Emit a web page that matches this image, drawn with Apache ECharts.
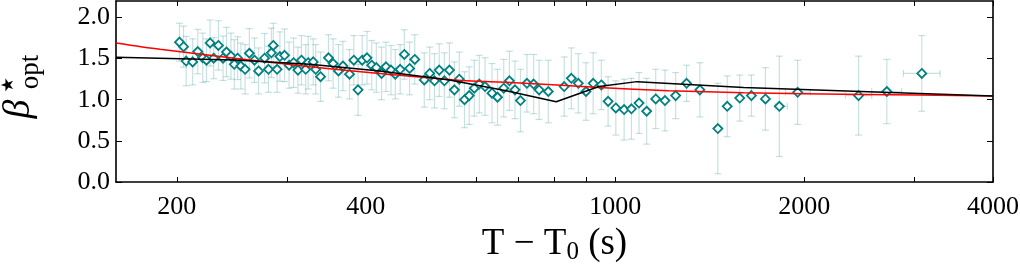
<!DOCTYPE html>
<html><head><meta charset="utf-8">
<script src="https://cdn.jsdelivr.net/npm/echarts@6/dist/echarts.min.js"></script>
<style>html,body{margin:0;padding:0;background:#fff}#c{width:1020px;height:267px}</style>
</head><body><div id="c"></div>
<script>
// Observations: T - T0 (s) and beta*_opt with symmetric error half-widths
const tValues = [202,205,207,212,216,220,223,226,229,233,237,240,244,247,250,253,257,261,266,270,276,280,283,285,289,292,297,302,307,312,316,321,324,330,333,339,349,355,362,368,377,383,389,395,402,409,416,424,431,439,446,454,461,470,479,496,506,515,524,534,544,554,564,575,585,596,607,620,636,649,664,678,692,706,723,741,756,782,829,851,873,898,922,950,974,1002,1033,1061,1091,1122,1160,1200,1248,1299,1364,1457,1508,1579,1648,1735,1826,1953,2442,2709,3080];
const betaValues = [1.70,1.645,1.47,1.46,1.585,1.51,1.48,1.69,1.505,1.66,
1.505,1.58,1.53,1.43,1.505,1.41,1.37,1.565,1.48,1.35,
1.505,1.37,1.57,1.66,1.37,1.525,1.54,1.42,1.45,1.36,
1.48,1.37,1.45,1.46,1.37,1.28,1.51,1.44,1.35,1.41,
1.31,1.48,1.12,1.48,1.51,1.42,1.39,1.32,1.40,1.36,
1.31,1.37,1.55,1.38,1.49,1.24,1.32,1.23,1.36,1.23,
1.36,1.12,1.25,1.00,1.05,1.14,1.19,1.16,1.08,1.03,
1.14,1.23,1.12,0.99,1.20,1.19,1.12,1.10,1.16,1.26,
1.20,1.10,1.20,1.18,0.98,0.90,0.88,0.89,0.96,0.86,
1.01,0.99,1.05,1.20,1.12,0.65,0.92,1.02,1.05,1.01,
0.92,1.09,1.05,1.10,1.32];
const betaErrors = [0.23,0.25,0.30,0.28,0.27,0.30,0.26,0.28,0.25,0.30,
0.27,0.30,0.28,0.30,0.26,0.28,0.30,0.30,0.27,0.28,
0.30,0.28,0.30,0.27,0.28,0.30,0.32,0.28,0.30,0.28,
0.30,0.30,0.32,0.28,0.30,0.30,0.28,0.30,0.32,0.30,
0.30,0.30,0.31,0.30,0.32,0.30,0.30,0.32,0.30,0.30,
0.30,0.30,0.30,0.32,0.30,0.33,0.32,0.33,0.32,0.34,
0.33,0.34,0.33,0.34,0.35,0.34,0.35,0.35,0.36,0.34,
0.35,0.36,0.35,0.38,0.35,0.36,0.36,0.38,0.36,0.37,
0.36,0.35,0.37,0.30,0.30,0.33,0.37,0.37,0.37,0.40,
0.36,0.37,0.28,0.22,0.33,0.55,0.37,0.28,0.25,0.38,
0.61,0.39,0.48,0.39,0.46];
// horizontal (bin) error bars: [point index, low T, high T]
const xErrorBars = [[100,1797,1880],[101,1867,2046],[102,2326,2563],[103,2563,2862],[104,2879,3294]];
// fitted curves
const redCurveT = [160,188,247,326,421,554,716,942,1217,1602,2487,4000];
const redCurveBeta = [1.69,1.613,1.505,1.40,1.32,1.24,1.20,1.15,1.11,1.085,1.065,1.045];
const blackCurveT = [160,247,326,421,544,670,805,942,1083,1602,4000];
const blackCurveBeta = [1.515,1.484,1.43,1.35,1.24,1.11,0.975,1.16,1.22,1.15,1.045];
// ticks
const xTickValues = [200,300,400,500,600,700,800,900,1000,2000,3000,4000];
const xLabelValues = [200,400,1000,2000,4000];
const yLabelValues = [0,0.5,1,1.5,2];

const serif = "'Liberation Serif','DejaVu Serif',serif";
const errColor = 'rgba(0,118,118,0.22)';
const frame = {color:'#000', width:1.6};

const xLo = tValues.slice(), xHi = tValues.slice();
xErrorBars.forEach(([i,lo,hi]) => { xLo[i]=lo; xHi[i]=hi; });
const errData = tValues.map((t,i)=>[t, betaValues[i], betaErrors[i], xLo[i], xHi[i]]);

function xAxisDef(pos, labels){
  return {
    type:'log', logBase:10, min:160, max:4000, position:pos, gridIndex:0,
    axisLine:{show:true, onZero:false, lineStyle:frame},
    axisTick:{show:true, inside:true, length:5, customValues:xTickValues, lineStyle:{color:'#000', width:1}},
    minorTick:{show:false}, splitLine:{show:false},
    axisLabel:{show:labels, customValues:xLabelValues, margin:12, color:'#000', fontFamily:serif, fontSize:26,
      formatter:(v)=>String(Math.round(v))}
  };
}
function yAxisDef(pos, labels){
  return {
    type:'value', min:0, max:2.2, position:pos, gridIndex:0,
    axisLine:{show:true, onZero:false, lineStyle:frame},
    axisTick:{show:true, inside:true, length:6, customValues:yLabelValues, lineStyle:{color:'#000', width:1}},
    splitLine:{show:false},
    axisLabel:{show:labels, customValues:yLabelValues, margin:6, color:'#000', fontFamily:serif, fontSize:26,
      formatter:(v)=>Number(v).toFixed(1)}
  };
}

const xb = xAxisDef('bottom', true);
xb.name = '{a|T − T}{s|0}{a| (s)}';
xb.nameLocation = 'middle';
xb.nameGap = 42;
xb.nameTextStyle = {rich:{
  a:{fontFamily:serif, fontSize:37, color:'#000'},
  s:{fontFamily:serif, fontSize:25, color:'#000', padding:[16,0,0,0]}
}};

const chart = echarts.init(document.getElementById('c'), null, {renderer:'canvas'});
chart.setOption({
  animation:false,
  backgroundColor:'#fff',
  grid:{left:116, right:27, top:1, bottom:85, containLabel:false, outerBoundsMode:'none'},
  xAxis:[xb, xAxisDef('top', false)],
  yAxis:[yAxisDef('left', true), yAxisDef('right', false)],
  graphic:[
    {type:'text', x:19, y:109, rotation:Math.PI/2,
      style:{text:'β', font:"italic 38px 'Liberation Serif'", fill:'#000', align:'center', verticalAlign:'middle', textAlign:'center', textVerticalAlign:'middle'}},
    {type:'text', x:9, y:85, rotation:Math.PI/2,
      style:{text:'★', font:"17px 'DejaVu Sans'", fill:'#000', align:'center', verticalAlign:'middle', textAlign:'center', textVerticalAlign:'middle'}},
    {type:'text', x:31, y:72, rotation:Math.PI/2,
      style:{text:'opt', font:"27px 'Liberation Serif'", fill:'#000', align:'center', verticalAlign:'middle', textAlign:'center', textVerticalAlign:'middle'}}
  ],
  series:[
    {
      type:'custom', xAxisIndex:0, yAxisIndex:0, z:1, clip:true,
      data:errData,
      encode:{x:0, y:1},
      renderItem:function(params, api){
        const t=api.value(0), b=api.value(1), e=api.value(2), lo=api.value(3), hi=api.value(4);
        const top=api.coord([t,b+e]), bot=api.coord([t,b-e]);
        const cw=3.5;
        const st=()=>({stroke:errColor, lineWidth:1.2});
        const ch=[
          {type:'line', shape:{x1:top[0],y1:top[1],x2:bot[0],y2:bot[1]}, style:st()},
          {type:'line', shape:{x1:top[0]-cw,y1:top[1],x2:top[0]+cw,y2:top[1]}, style:st()},
          {type:'line', shape:{x1:bot[0]-cw,y1:bot[1],x2:bot[0]+cw,y2:bot[1]}, style:st()}
        ];
        if (hi>lo){
          const l=api.coord([lo,b]), r=api.coord([hi,b]);
          ch.push({type:'line', shape:{x1:l[0],y1:l[1],x2:r[0],y2:r[1]}, style:st()});
          ch.push({type:'line', shape:{x1:l[0],y1:l[1]-cw,x2:l[0],y2:l[1]+cw}, style:st()});
          ch.push({type:'line', shape:{x1:r[0],y1:r[1]-cw,x2:r[0],y2:r[1]+cw}, style:st()});
        }
        return {type:'group', children:ch};
      }
    },
    {
      type:'scatter', xAxisIndex:0, yAxisIndex:0, z:2,
      data:tValues.map((t,i)=>[t, betaValues[i]]),
      symbol:'diamond', symbolSize:[9,9],
      itemStyle:{color:'#fff', borderColor:'#008080', borderWidth:1.8, opacity:1}
    },
    {
      type:'line', xAxisIndex:0, yAxisIndex:0, z:3,
      data:redCurveT.map((t,i)=>[t, redCurveBeta[i]]),
      showSymbol:false, symbol:'none', smooth:0.3,
      lineStyle:{color:'#ff0000', width:1.5}
    },
    {
      type:'line', xAxisIndex:0, yAxisIndex:0, z:4,
      data:blackCurveT.map((t,i)=>[t, blackCurveBeta[i]]),
      showSymbol:false, symbol:'none',
      lineStyle:{color:'#000', width:1.5}
    }
  ]
});
</script>
</body></html>
